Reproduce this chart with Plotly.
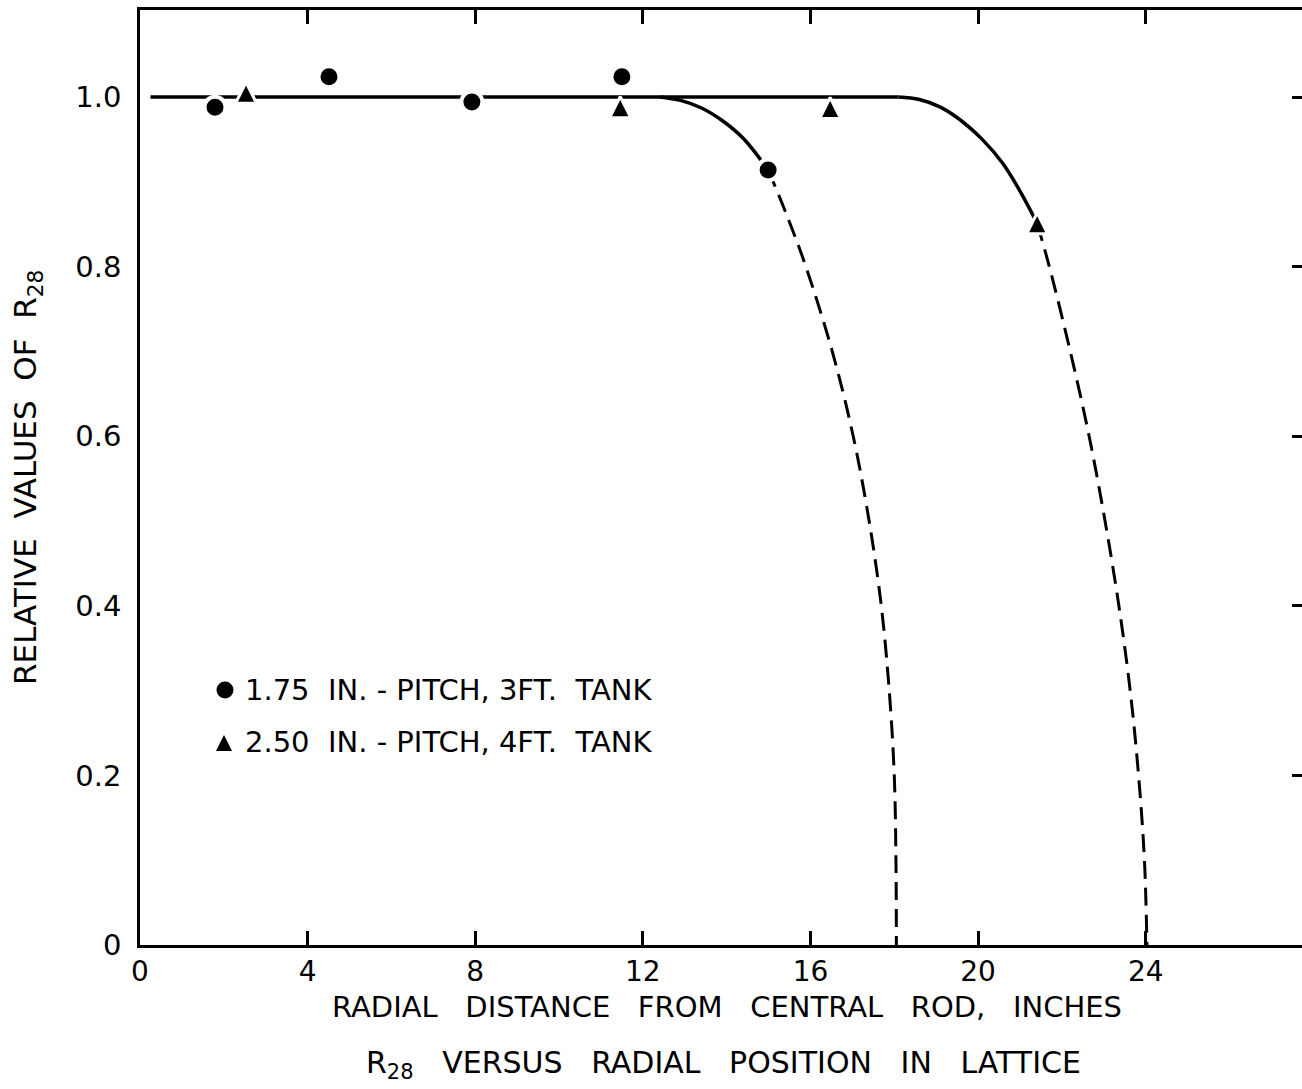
import plotly.graph_objects as go

# ---- data ----
circ_x = [1.79, 4.51, 7.92, 11.50, 14.99]
circ_y = [0.988, 1.024, 0.994, 1.024, 0.914]
tri_x = [2.53, 11.46, 16.47, 21.41]
tri_y = [1.005, 0.988, 0.987, 0.851]

flat_x = [0.25, 18.1]
flat_y = [1.0, 1.0]

a_solid_x = [12.4, 12.9, 13.4, 13.9, 14.4, 14.99]
a_solid_y = [1.0, 0.996, 0.987, 0.972, 0.951, 0.914]
a_dash_x = [14.99, 15.44, 15.89, 16.52, 17.02, 17.40, 17.69, 17.88, 18.00, 18.04, 18.05]
a_dash_y = [0.914, 0.860, 0.800, 0.700, 0.600, 0.500, 0.400, 0.300, 0.200, 0.100, 0.0]

b_solid_x = [18.1, 18.6, 19.1, 19.6, 20.1, 20.6, 21.0, 21.41]
b_solid_y = [1.0, 0.997, 0.988, 0.972, 0.950, 0.921, 0.889, 0.851]
b_dash_x = [21.41, 21.70, 22.20, 22.65, 23.03, 23.36, 23.63, 23.83, 23.97, 24.03]
b_dash_y = [0.851, 0.800, 0.700, 0.600, 0.500, 0.400, 0.300, 0.200, 0.100, 0.0]

x_ticks = [0, 4, 8, 12, 16, 20, 24]
x_ticktext = ["0", "4", "8", "12", "16", "20", "24"]
y_ticks = [0, 0.2, 0.4, 0.6, 0.8, 1.0]
y_ticktext = ["0", "0.2", "0.4", "0.6", "0.8", "1.0"]
right_ticks = [0.2, 0.4, 0.6, 0.8, 1.0]

legend_a = "1.75  IN. - PITCH, 3FT.  TANK"
legend_b = "2.50  IN. - PITCH, 4FT.  TANK"
x_title = "RADIAL   DISTANCE   FROM   CENTRAL   ROD,   INCHES"
y_title = "RELATIVE  VALUES  OF  R<sub>28</sub>"
bottom_title = "R<sub>28</sub>   VERSUS   RADIAL   POSITION   IN   LATTICE"

FONT = "DejaVu Sans"
W, H = 1302, 1089
L, R, T, B = 140, 0, 10, 144
PW, PH = W - L - R, H - T - B
X_MAX = 27.73
Y_MAX = 1.1026


def px_x(p):
    return (p - L) / PW


def px_y(p):
    return (H - B - p) / PH


fig = go.Figure()

line_solid = dict(color="black", width=3.5, shape="spline", smoothing=1.0)
line_dash = dict(color="black", width=3, shape="spline", smoothing=1.0, dash="18px,9px")

fig.add_trace(go.Scatter(x=flat_x, y=flat_y, mode="lines", line=dict(color="black", width=3.5),
                         showlegend=False, hoverinfo="skip"))
fig.add_trace(go.Scatter(x=a_solid_x, y=a_solid_y, mode="lines", line=line_solid,
                         showlegend=False, hoverinfo="skip"))
fig.add_trace(go.Scatter(x=a_dash_x, y=a_dash_y, mode="lines", line=line_dash,
                         showlegend=False, hoverinfo="skip"))
fig.add_trace(go.Scatter(x=b_solid_x, y=b_solid_y, mode="lines", line=line_solid,
                         showlegend=False, hoverinfo="skip"))
fig.add_trace(go.Scatter(x=b_dash_x, y=b_dash_y, mode="lines", line=line_dash,
                         showlegend=False, hoverinfo="skip"))

circle_marker = dict(symbol="circle", size=21, color="black", line=dict(color="white", width=4))
tri_marker = dict(symbol="arrow-down", angle=180, standoff=10.5, size=21,
                  color="black", line=dict(color="white", width=3))

fig.add_trace(go.Scatter(x=circ_x, y=circ_y, mode="markers", name=legend_a,
                         marker=circle_marker, showlegend=False))
fig.add_trace(go.Scatter(x=tri_x, y=tri_y, mode="markers", name=legend_b,
                         marker=tri_marker, showlegend=False))

# legend keys on a hidden paper-like overlay axis
fig.add_trace(go.Scatter(x=[px_x(225)], y=[px_y(690)], xaxis="x2", yaxis="y3", mode="markers",
                         marker=circle_marker, showlegend=False, hoverinfo="skip"))
fig.add_trace(go.Scatter(x=[px_x(224)], y=[px_y(742)], xaxis="x2", yaxis="y3", mode="markers",
                         marker=tri_marker, showlegend=False, hoverinfo="skip"))

# right-side ticks only
fig.add_trace(go.Scatter(x=[None], y=[None], yaxis="y2", showlegend=False, hoverinfo="skip"))

fig.update_layout(
    width=W, height=H,
    margin=dict(l=L, r=R, t=T, b=B, autoexpand=False),
    paper_bgcolor="white", plot_bgcolor="white",
    font=dict(family=FONT, color="black"),
    showlegend=False,
    xaxis=dict(range=[0, X_MAX], tickvals=x_ticks, ticktext=x_ticktext,
               ticks="inside", ticklen=14, tickwidth=2.5, tickcolor="black",
               showline=True, linewidth=2.5, linecolor="black", mirror="ticks",
               showgrid=False, zeroline=False, tickfont=dict(size=28, family=FONT),
               ticklabelstandoff=0),
    yaxis=dict(range=[0, Y_MAX], tickvals=y_ticks, ticktext=y_ticktext,
               ticks="", showline=True, linewidth=2.5, linecolor="black",
               showgrid=False, zeroline=False, tickfont=dict(size=29, family=FONT),
               ticklabelstandoff=10),
    yaxis2=dict(range=[0, Y_MAX], overlaying="y", side="right", tickvals=right_ticks,
                ticks="inside", ticklen=10, tickwidth=2.5, tickcolor="black",
                showticklabels=False, showline=False, showgrid=False, zeroline=False),
    xaxis2=dict(range=[0, 1], overlaying="x", visible=False),
    yaxis3=dict(range=[0, 1], overlaying="y", visible=False),
)

fig.add_annotation(text=legend_a, xref="paper", yref="paper", x=px_x(243), y=px_y(690),
                   showarrow=False, xanchor="left", yanchor="middle",
                   font=dict(size=29, family=FONT))
fig.add_annotation(text=legend_b, xref="paper", yref="paper", x=px_x(243), y=px_y(742),
                   showarrow=False, xanchor="left", yanchor="middle",
                   font=dict(size=29, family=FONT))

fig.add_annotation(text=x_title, xref="paper", yref="paper",
                   x=px_x(727), y=px_y(1007), showarrow=False,
                   font=dict(size=29, family=FONT), xanchor="center", yanchor="middle")
fig.add_annotation(text=bottom_title, xref="paper", yref="paper",
                   x=px_x(723), y=px_y(1064), showarrow=False,
                   font=dict(size=30, family=FONT), xanchor="center", yanchor="middle")
fig.add_annotation(text=y_title, xref="paper", yref="paper",
                   x=px_x(28), y=px_y(478), showarrow=False, textangle=-90,
                   font=dict(size=31, family=FONT), xanchor="center", yanchor="middle")

fig.write_html("out.html")
